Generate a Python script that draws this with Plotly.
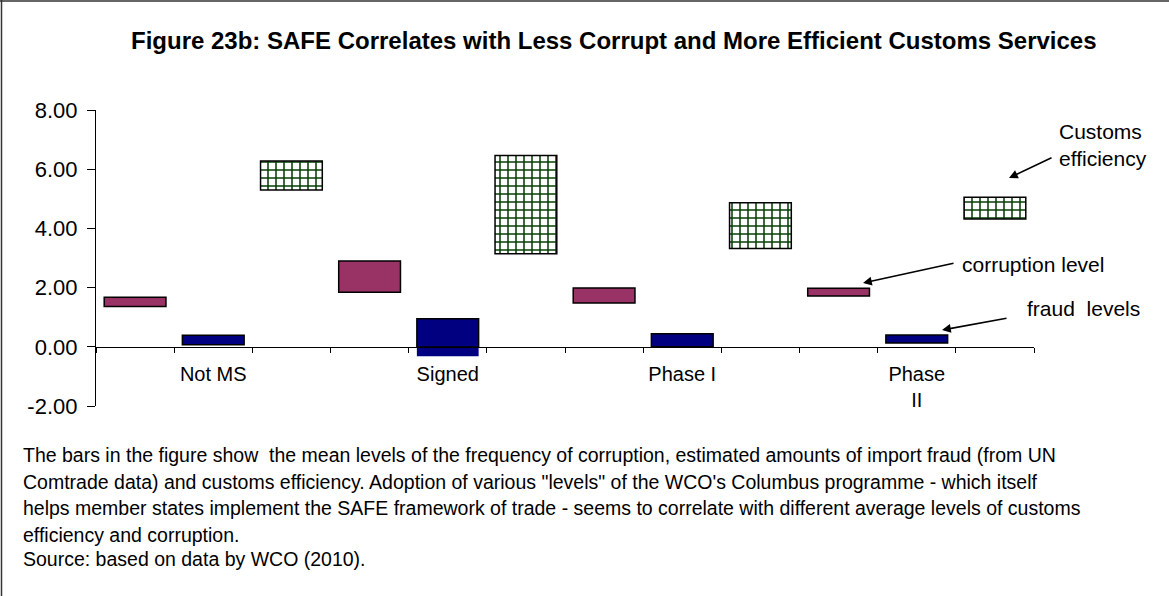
import plotly.graph_objects as go

# Group labels and the three measures shown for each group
groups = ["Not MS", "Signed", "Phase I", "Phase<br>II"]
measures = ["corruption", "fraud", "efficiency"]

# Low / high ends of each floating bar, one value per group
corruption_low = [1.36, 1.84, 1.48, 1.72]
corruption_high = [1.67, 2.90, 1.99, 1.98]
fraud_low = [0.07, -0.32, 0.00, 0.13]
fraud_high = [0.39, 0.95, 0.44, 0.40]
efficiency_low = [5.30, 3.14, 3.32, 4.32]
efficiency_high = [6.28, 6.46, 4.87, 5.05]

y_ticks = [-2, 0, 2, 4, 6, 8]
y_tick_text = [f"{v:.2f}" for v in y_ticks]

# One category slot per (group, measure); the group label sits on the middle slot
slots = [f"{g}|{m}" for g in groups for m in measures]
slot_text = [g if m == "fraud" else "" for g in groups for m in measures]


def slots_for(measure):
    return [f"{g}|{measure}" for g in groups]


W, H = 1169, 596
L, R, T, B = 96, 135, 110, 190
PW, PH = W - L - R, H - T - B


def px(x):
    return (x - L) / PW


def py(y):
    return (H - B - y) / PH


FONT = "Liberation Sans, Arial, sans-serif"
BAR_W = 0.79

fig = go.Figure()

fig.add_trace(go.Bar(
    x=slots_for("corruption"),
    base=corruption_low,
    y=[h - l for l, h in zip(corruption_low, corruption_high)],
    width=BAR_W,
    marker=dict(color="#993366", line=dict(color="#000000", width=1.5)),
    name="corruption level",
))

# fraud bars: the part above zero is outlined, any part below zero is plain fill
fraud_pos_base = [max(l, 0) for l in fraud_low]
fig.add_trace(go.Bar(
    x=slots_for("fraud"),
    base=fraud_pos_base,
    y=[h - b for b, h in zip(fraud_pos_base, fraud_high)],
    width=BAR_W,
    marker=dict(color="#000080", line=dict(color="#000000", width=1.5)),
    name="fraud levels",
))
fig.add_trace(go.Bar(
    x=slots_for("fraud"),
    base=fraud_low,
    y=[max(min(h, 0) - l, 0) for l, h in zip(fraud_low, fraud_high)],
    width=BAR_W,
    marker=dict(color="#000080", line=dict(width=0)),
    showlegend=False,
))

fig.add_trace(go.Bar(
    x=slots_for("efficiency"),
    base=efficiency_low,
    y=[h - l for l, h in zip(efficiency_low, efficiency_high)],
    width=BAR_W,
    marker=dict(
        color="#ffffff",
        line=dict(color="#000000", width=1.5),
        pattern=dict(shape="+", fgcolor="#063f06", bgcolor="#ffffff",
                     size=8, solidity=0.35, fillmode="replace"),
    ),
    name="Customs efficiency",
))

annotations = []

# title
annotations.append(dict(
    text="<b>Figure 23b: SAFE Correlates with Less Corrupt and More Efficient Customs Services</b>",
    xref="paper", yref="paper", x=px(614), y=py(40),
    xanchor="center", yanchor="middle", showarrow=False,
    font=dict(family=FONT, size=24, color="#000000"),
))

# series call-outs with arrows
callouts = [
    ("Customs<br>efficiency", 1057, 145, 1009, 178, 1053, 157),
    ("corruption level", 960, 264, 863, 283, 955, 263),
    ("fraud  levels", 1025, 308, 942, 330, 1008, 318),
]
for text, tx, ty, hx, hy, ax_, ay_ in callouts:
    annotations.append(dict(
        text=text, xref="paper", yref="paper", x=px(tx), y=py(ty),
        xanchor="left", yanchor="middle", align="left", showarrow=False,
        font=dict(family=FONT, size=21, color="#000000"),
    ))
    annotations.append(dict(
        text="", xref="paper", yref="paper", x=px(hx), y=py(hy),
        ax=ax_ - hx, ay=ay_ - hy, showarrow=True,
        arrowhead=2, arrowsize=1.1, arrowwidth=1.6, arrowcolor="#000000",
    ))

# caption under the chart
caption = [
    ("The bars in the figure show  the mean levels of the frequency of corruption, estimated amounts of import fraud (from UN", 455),
    ("Comtrade data) and customs efficiency. Adoption of various \"levels\" of the WCO's Columbus programme - which itself", 481.5),
    ("helps member states implement the SAFE framework of trade - seems to correlate with different average levels of customs", 508),
    ("efficiency and corruption.", 534.5),
    ("Source: based on data by WCO (2010).", 559),
]
for line, y in caption:
    annotations.append(dict(
        text=line, xref="paper", yref="paper", x=px(21), y=py(y),
        xanchor="left", yanchor="middle", showarrow=False,
        font=dict(family=FONT, size=19.5, color="#000000"),
    ))

fig.update_layout(
    width=W, height=H, autosize=False,
    margin=dict(l=L, r=R, t=T, b=B),
    paper_bgcolor="#ffffff", plot_bgcolor="#ffffff",
    barmode="overlay", showlegend=False,
    font=dict(family=FONT, color="#000000"),
    annotations=annotations,
    shapes=[
        dict(type="line", xref="paper", yref="paper",
             x0=px(1.5), x1=px(1.5), y0=py(0), y1=py(H), line=dict(color="#333333", width=1.5)),
        dict(type="line", xref="paper", yref="paper",
             x0=px(0), x1=px(W), y0=py(1), y1=py(1), line=dict(color="#333333", width=1.5)),
    ],
    xaxis=dict(
        type="category", categoryorder="array", categoryarray=slots,
        tickmode="array", tickvals=slots, ticktext=slot_text,
        anchor="free", position=(0 - (-2)) / (8 - (-2)),
        showline=True, linecolor="#000000", linewidth=1.2,
        ticks="outside", ticklen=5, tickcolor="#000000", tickson="boundaries",
        ticklabelstandoff=9,
        showgrid=False, zeroline=False,
        tickfont=dict(family=FONT, size=20, color="#000000"),
        range=[-0.5, len(slots) - 0.5],
    ),
    yaxis=dict(
        range=[-2, 8], tickmode="array", tickvals=y_ticks, ticktext=y_tick_text,
        showline=True, linecolor="#000000", linewidth=1.2,
        ticks="outside", ticklen=8, tickcolor="#000000",
        ticklabelstandoff=5,
        showgrid=False, zeroline=False,
        tickfont=dict(family=FONT, size=22, color="#000000"),
    ),
)

fig.write_html("out.html")
